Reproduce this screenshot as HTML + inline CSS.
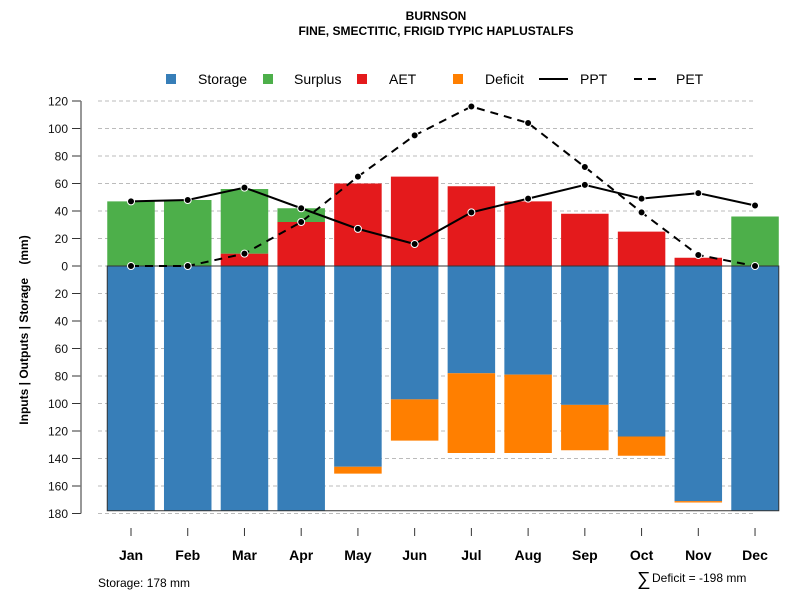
<!DOCTYPE html>
<html><head><meta charset="utf-8"><style>
body{margin:0;background:#fff;}
svg text{font-family:"Liberation Sans",Arial,sans-serif;}
</style></head><body>
<svg width="800" height="600" xmlns="http://www.w3.org/2000/svg">
<g id="chart"></g>
</svg>
<script>
const months=["Jan","Feb","Mar","Apr","May","Jun","Jul","Aug","Sep","Oct","Nov","Dec"];
const storage=[178,178,178,178,146,97,78,79,101,124,171,178];
const deficit=[0,0,0,0,5,30,58,57,33,14,1,0];
const aet=[0,0,9,32,60,65,58,47,38,25,6,0];
const surplus=[47,48,47,10,0,0,0,0,0,0,0,36];
const ppt=[47,48,57,42,27,16,39,49,59,49,53,44];
const pet=[0,0,9,32,65,95,116,104,72,39,8,0];
const yTicks=[120,100,80,60,40,20,0,20,40,60,80,100,120,140,160,180];
const yTickVals=[120,100,80,60,40,20,0,-20,-40,-60,-80,-100,-120,-140,-160,-180];

const NS="http://www.w3.org/2000/svg";
const g=document.getElementById('chart');
function el(t,a,p){const e=document.createElementNS(NS,t);for(const k in a)e.setAttribute(k,a[k]);(p||g).appendChild(e);return e;}
const y=v=>266-v*1.375;
const xc=i=>131+i*56.73;
const bw=47.5;

yTickVals.forEach((v,i)=>{
  const l=el('line',{x1:98,x2:755,y1:y(v),y2:y(v),stroke:'#bbb','stroke-dasharray':'4,3','stroke-width':1});
  
  
  const t=el('line',{x1:72,x2:81,y1:y(v),y2:y(v),stroke:'#333','stroke-width':1});
  
  
  const tx=el('text',{x:68,y:y(v)+4.5,'text-anchor':'end','font-size':12,fill:'#111'});
  tx.textContent=yTicks[i];
  
  
});
const ax=el('line',{x1:81,x2:81,y1:y(120),y2:y(-180),stroke:'#777','stroke-width':1.5});



function bar(i,v0,v1,color,name){
  if(v1===v0)return;
  const top=Math.min(y(v0),y(v1)),h=Math.abs(y(v0)-y(v1));
  const r=el('rect',{x:xc(i)-bw/2,y:top,width:bw,height:h,fill:color});
  
  
}
months.forEach((m,i)=>{
  bar(i,0,-storage[i],'#377eb8','storage-bar');
  bar(i,-storage[i],-storage[i]-deficit[i],'#ff7f00','deficit-bar');
  bar(i,0,aet[i],'#e41a1c','aet-bar');
  bar(i,aet[i],aet[i]+surplus[i],'#4daf4a','surplus-bar');
  const t=el('line',{x1:xc(i),x2:xc(i),y1:528,y2:536,stroke:'#333'});
  
  
  const tx=el('text',{x:xc(i),y:560,'text-anchor':'middle','font-size':14,'font-weight':'bold',fill:'#000'});
  tx.textContent=m;
  
  
});
const ob=el('rect',{x:xc(0)-bw/2,y:y(0),width:xc(11)-xc(0)+bw,height:y(-178)-y(0),fill:'none',stroke:'#333','stroke-width':1});



function series(vals,dash,name){
  const p=el('polyline',{points:vals.map((v,i)=>xc(i)+','+y(v)).join(' '),fill:'none',stroke:'#000','stroke-width':2,'stroke-dasharray':dash});
  
  
  vals.forEach((v,i)=>{
    const c=el('circle',{cx:xc(i),cy:y(v),r:3.5,fill:'#000',stroke:'#fff','stroke-width':1});
    
    
  });
}
series(ppt,'none','ppt');
series(pet,'8,6','pet');
</script>
<svg width="800" height="600" style="position:absolute;left:0;top:0" xmlns="http://www.w3.org/2000/svg">
<text x="436" y="20" text-anchor="middle" font-size="12" font-weight="bold">BURNSON</text>
<text x="436" y="35" text-anchor="middle" font-size="12" font-weight="bold">FINE, SMECTITIC, FRIGID TYPIC HAPLUSTALFS</text>
<g font-size="14">
<rect x="166" y="74" width="10" height="10" fill="#377eb8"/>
<text x="198" y="84">Storage</text>
<rect x="263" y="74" width="10" height="10" fill="#4daf4a"/>
<text x="294" y="84">Surplus</text>
<rect x="357" y="74" width="10" height="10" fill="#e41a1c"/>
<text x="389" y="84">AET</text>
<rect x="453" y="74" width="10" height="10" fill="#ff7f00"/>
<text x="485" y="84">Deficit</text>
<line x1="539" x2="568" y1="79" y2="79" stroke="#000" stroke-width="2"/>
<text x="580" y="84">PPT</text>
<line x1="634" x2="660" y1="79" y2="79" stroke="#000" stroke-width="2" stroke-dasharray="8,6"/>
<text x="676" y="84">PET</text>
</g>
<text transform="translate(28,330) rotate(-90)" text-anchor="middle" font-size="12" font-weight="bold" xml:space="preserve">Inputs | Outputs | Storage    (mm)</text>
<text x="98" y="587" font-size="12">Storage: 178 mm</text>
<text x="637" y="585" font-size="19">∑</text>
<text x="652" y="582" font-size="12">Deficit = -198 mm</text>
</svg>
</body></html>
